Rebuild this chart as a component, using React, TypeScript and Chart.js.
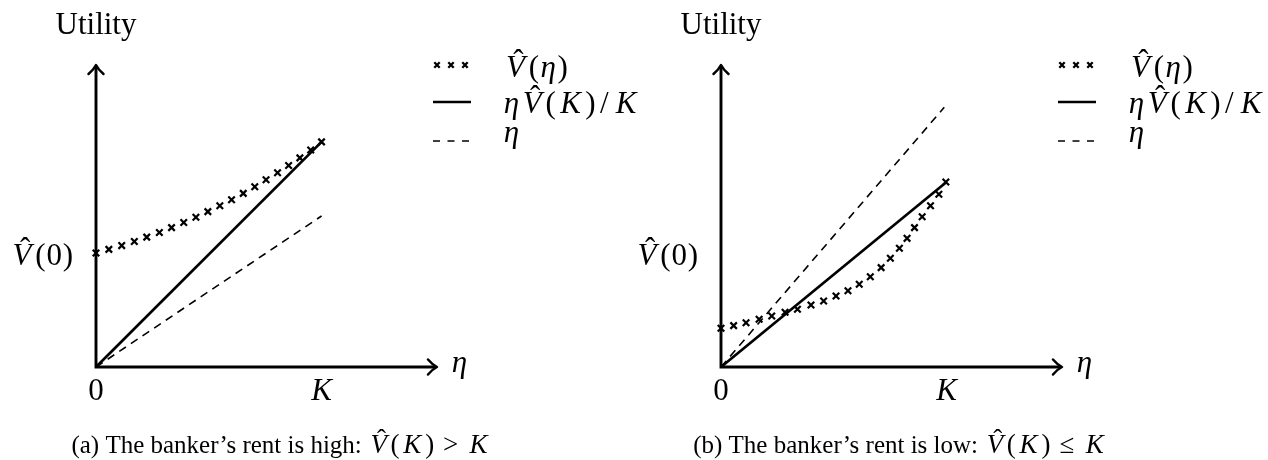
import React, { useEffect, useRef } from "react";
import { Chart, registerables } from "chart.js";

Chart.register(...registerables);

// ---- data -------------------------------------------------------------
const K = 1;

// (a) high rent: sampled V̂(η) along the curve
const ETA_A = [0, 0.057, 0.114, 0.17, 0.225, 0.281, 0.335, 0.389, 0.443, 0.496, 0.549, 0.601, 0.653, 0.704, 0.754, 0.805, 0.854, 0.904, 0.952, 1.0];
const VHAT_A = [0.755, 0.779, 0.804, 0.831, 0.86, 0.891, 0.923, 0.957, 0.992, 1.029, 1.068, 1.108, 1.15, 1.194, 1.24, 1.286, 1.335, 1.385, 1.437, 1.491];
const ETA_LINE_X_A = [0, 1.0];
const ETA_LINE_Y_A = [0, 1.0];

// (b) low rent
const ETA_B = [0, 0.056, 0.111, 0.169, 0.225, 0.284, 0.339, 0.399, 0.455, 0.51, 0.563, 0.613, 0.662, 0.71, 0.751, 0.791, 0.825, 0.858, 0.892, 0.929, 0.966, 0.997];
const VHAT_B = [0.256, 0.274, 0.293, 0.316, 0.338, 0.362, 0.382, 0.411, 0.437, 0.47, 0.505, 0.548, 0.598, 0.658, 0.72, 0.786, 0.852, 0.923, 0.995, 1.068, 1.144, 1.225];
const ETA_LINE_X_B = [0, 0.99];
const ETA_LINE_Y_B = [0, 1.72];

// axes
const X_MAX = 1.512;
const Y_MAX = 2;
const X_TICKS = [0, K];
const X_TICK_LABELS = ["0", "K"];
const Y_TICK = 0.755; // where the V̂(0) label sits

const FONT = '"Liberation Serif", "Times New Roman", serif';

// ---- math-ish text on canvas -------------------------------------------
type Seg = { t: string; it?: boolean; hat?: boolean; w?: number; pre?: number; post?: number; size?: number };

function fontFor(seg: Seg, size: number) {
  return `${seg.it ? "italic " : ""}${seg.size || size}px ${FONT}`;
}

function segWidth(ctx: CanvasRenderingContext2D, seg: Seg, size: number) {
  const s = seg.size || size;
  ctx.font = fontFor(seg, size);
  const natural = ctx.measureText(seg.t).width;
  const box = seg.w !== undefined ? seg.w * s : natural;
  return { natural, box: box + ((seg.pre || 0) + (seg.post || 0)) * s };
}

function drawMath(
  ctx: CanvasRenderingContext2D,
  segs: Seg[],
  x: number,
  y: number,
  size: number,
  align: "left" | "center" | "right"
) {
  const ws = segs.map((s) => segWidth(ctx, s, size));
  const total = ws.reduce((a, b) => a + b.box, 0);
  let cx = align === "left" ? x : align === "center" ? x - total / 2 : x - total;
  ctx.textAlign = "left";
  ctx.textBaseline = "alphabetic";
  segs.forEach((s, i) => {
    const sz = s.size || size;
    const { natural, box } = ws[i];
    const pre = (s.pre || 0) * sz;
    const inner = box - pre - (s.post || 0) * sz;
    const gx = cx + pre + (inner - natural) / 2;
    ctx.font = fontFor(s, size);
    ctx.fillText(s.t, gx, y);
    if (s.hat) {
      ctx.font = `${sz}px ${FONT}`;
      const hw = ctx.measureText("\u02C6").width;
      ctx.fillText("\u02C6", gx + natural / 2 - hw / 2 + sz * 0.1, y - sz * 0.19);
    }
    cx += box;
  });
}

// Computer-Modern-like advance widths (em) for the math pieces
const mV: Seg = { t: "V", it: true, hat: true, w: 0.8 };
const mK: Seg = { t: "K", it: true, w: 0.9 };
const mEta: Seg = { t: "η", it: true, w: 0.54 };
const mL: Seg = { t: "(", w: 0.389 };
const mR: Seg = { t: ")", w: 0.389 };

const LEGEND_ROWS: Seg[][] = [
  [mV, mL, mEta, mR],
  [mEta, mV, mL, mK, mR, { t: "/", w: 0.5 }, mK],
  [mEta],
];

const CAP_MATH = 27;
const capMath = (s: Seg): Seg => ({ ...s, size: CAP_MATH });
const CAPTION_A: Seg[] = [
  { t: "(a) The banker\u2019s rent is high: " },
  capMath(mV), capMath(mL), capMath(mK), capMath(mR),
  capMath({ t: ">", w: 0.72, pre: 0.22, post: 0.22 }), capMath(mK),
];
const CAPTION_B: Seg[] = [
  { t: "(b) The banker\u2019s rent is low: " },
  capMath(mV), capMath(mL), capMath(mK), capMath(mR),
  capMath({ t: "\u2264", w: 0.72, pre: 0.22, post: 0.22 }), capMath(mK),
];

// ---- drawing helpers ---------------------------------------------------
function arrowHead(ctx: CanvasRenderingContext2D, x: number, y: number, angle: number) {
  ctx.save();
  ctx.translate(x, y);
  ctx.rotate(angle);
  ctx.beginPath();
  ctx.moveTo(-9, -7.5);
  ctx.quadraticCurveTo(-4.5, -2.2, 0, 0);
  ctx.quadraticCurveTo(-4.5, 2.2, -9, 7.5);
  ctx.lineWidth = 2.5;
  ctx.lineCap = "round";
  ctx.lineJoin = "round";
  ctx.stroke();
  ctx.restore();
}

function cross(ctx: CanvasRenderingContext2D, x: number, y: number, r: number) {
  ctx.beginPath();
  ctx.moveTo(x - r, y - r);
  ctx.lineTo(x + r, y + r);
  ctx.moveTo(x - r, y + r);
  ctx.lineTo(x + r, y - r);
  ctx.stroke();
}

type PanelCfg = {
  eta: number[];
  vhat: number[];
  etaX: number[];
  etaY: number[];
  caption: Seg[];
  captionX: number;
  left: number;
  width: number;
  padLeft: number;
};

const SIZE = 31;
const CAPTION_SIZE = 25;

function makeDecor(cfg: PanelCfg) {
  return {
    id: "figureDecor",
    beforeDatasetsDraw(chart: any) {
      const { ctx, scales } = chart;
      const x = scales.x;
      const y = scales.y;
      const x0 = x.getPixelForValue(0);
      const y0 = y.getPixelForValue(0);
      const xEnd = x.getPixelForValue(X_MAX);
      const yEnd = y.getPixelForValue(Y_MAX);
      ctx.save();
      ctx.strokeStyle = "#000";
      ctx.lineWidth = 2.9;
      ctx.beginPath();
      ctx.moveTo(x0, y0 + 1.4);
      ctx.lineTo(x0, yEnd + 1);
      ctx.moveTo(x0 - 1.4, y0);
      ctx.lineTo(xEnd - 1, y0);
      ctx.stroke();
      arrowHead(ctx, xEnd, y0, 0);
      arrowHead(ctx, x0, yEnd, -Math.PI / 2);
      ctx.restore();
    },
    afterDraw(chart: any) {
      const { ctx, scales, chartArea } = chart;
      const x = scales.x;
      const y = scales.y;
      const x0 = x.getPixelForValue(0);
      const y0 = y.getPixelForValue(0);
      const xEnd = x.getPixelForValue(X_MAX);
      const top = chartArea.top;
      ctx.save();
      ctx.fillStyle = "#000";
      ctx.strokeStyle = "#000";

      // axis titles
      drawMath(ctx, [{ t: "Utility" }], x0, top - 31, SIZE, "center");
      drawMath(ctx, [mEta], xEnd + 14, y0 + 5, SIZE, "left");

      // x ticks
      X_TICKS.forEach((v, i) => {
        const seg: Seg = X_TICK_LABELS[i] === "K" ? mK : { t: X_TICK_LABELS[i] };
        drawMath(ctx, [seg], x.getPixelForValue(v), y0 + 33, SIZE, "center");
      });

      // y label
      drawMath(ctx, [mV, mL, { t: "0", w: 0.5 }, mR], x0 - 22, y.getPixelForValue(Y_TICK) + 12, SIZE, "right");

      // legend
      const lx = x0 + 341;
      const tx = x0 + 407;
      ctx.lineWidth = 2.3;
      [0, 14, 28].forEach((d) => cross(ctx, lx + d, top, 2.7));
      ctx.lineWidth = 2.5;
      ctx.beginPath();
      ctx.moveTo(lx - 4, top + 37);
      ctx.lineTo(lx + 34, top + 37);
      ctx.stroke();
      ctx.lineWidth = 1.4;
      ctx.setLineDash([7, 7.5]);
      ctx.beginPath();
      ctx.moveTo(lx - 4, top + 76);
      ctx.lineTo(lx + 34, top + 76);
      ctx.stroke();
      ctx.setLineDash([]);
      drawMath(ctx, LEGEND_ROWS[0], tx, top + 12, SIZE, "left");
      drawMath(ctx, LEGEND_ROWS[1], tx, top + 48, SIZE, "left");
      drawMath(ctx, LEGEND_ROWS[2], tx, top + 77, SIZE, "left");

      // caption
      drawMath(ctx, cfg.caption, cfg.captionX, y0 + 86, CAPTION_SIZE, "center");
      ctx.restore();
    },
  };
}

function Panel({ cfg }: { cfg: PanelCfg }) {
  const ref = useRef<HTMLCanvasElement | null>(null);
  useEffect(() => {
    const canvas = ref.current;
    if (!canvas) return;
    const last = cfg.vhat.length - 1;
    const chart = new Chart(canvas, {
      type: "scatter",
      data: {
        datasets: [
          {
            label: "V̂(η)",
            data: cfg.eta.map((e, i) => ({ x: e, y: cfg.vhat[i] })),
            pointStyle: "crossRot",
            pointRadius: 4.6,
            pointBorderWidth: 2.2,
            borderColor: "#000",
            backgroundColor: "#000",
            showLine: false,
            clip: false,
            order: 0,
          } as any,
          {
            type: "line",
            label: "ηV̂(K)/K",
            data: [
              { x: 0, y: 0 },
              { x: K, y: cfg.vhat[last] },
            ],
            borderColor: "#000",
            borderWidth: 2.7,
            pointRadius: 0,
            clip: false,
            order: 1,
          } as any,
          {
            type: "line",
            label: "η",
            data: cfg.etaX.map((e, i) => ({ x: e, y: cfg.etaY[i] })),
            borderColor: "#000",
            borderWidth: 1.6,
            borderDash: [8, 6],
            pointRadius: 0,
            clip: false,
            order: 2,
          } as any,
        ],
      },
      options: {
        responsive: false,
        animation: false,
        events: [],
        layout: {
          padding: {
            left: cfg.padLeft,
            right: cfg.width - cfg.padLeft - 341,
            top: 65,
            bottom: 93,
          },
        },
        scales: {
          x: { type: "linear", display: false, min: 0, max: X_MAX },
          y: { type: "linear", display: false, min: 0, max: Y_MAX },
        },
        plugins: { legend: { display: false }, tooltip: { enabled: false } },
      },
      plugins: [makeDecor(cfg)],
    });
    return () => chart.destroy();
  }, [cfg]);
  return (
    <canvas
      ref={ref}
      width={cfg.width}
      height={460}
      style={{ position: "absolute", left: cfg.left, top: 0, width: cfg.width, height: 460 }}
    />
  );
}

const PANEL_A: PanelCfg = {
  eta: ETA_A,
  vhat: VHAT_A,
  etaX: ETA_LINE_X_A,
  etaY: ETA_LINE_Y_A,
  caption: CAPTION_A,
  captionX: 281,
  left: 0,
  width: 660,
  padLeft: 96,
};

const PANEL_B: PanelCfg = {
  eta: ETA_B,
  vhat: VHAT_B,
  etaX: ETA_LINE_X_B,
  etaY: ETA_LINE_Y_B,
  caption: CAPTION_B,
  captionX: 900 - 620,
  left: 620,
  width: 648,
  padLeft: 101,
};

export default function App() {
  return (
    <div style={{ position: "absolute", left: 0, top: 0, width: 1268, height: 460, background: "#fff" }}>
      <Panel cfg={PANEL_A} />
      <Panel cfg={PANEL_B} />
    </div>
  );
}
